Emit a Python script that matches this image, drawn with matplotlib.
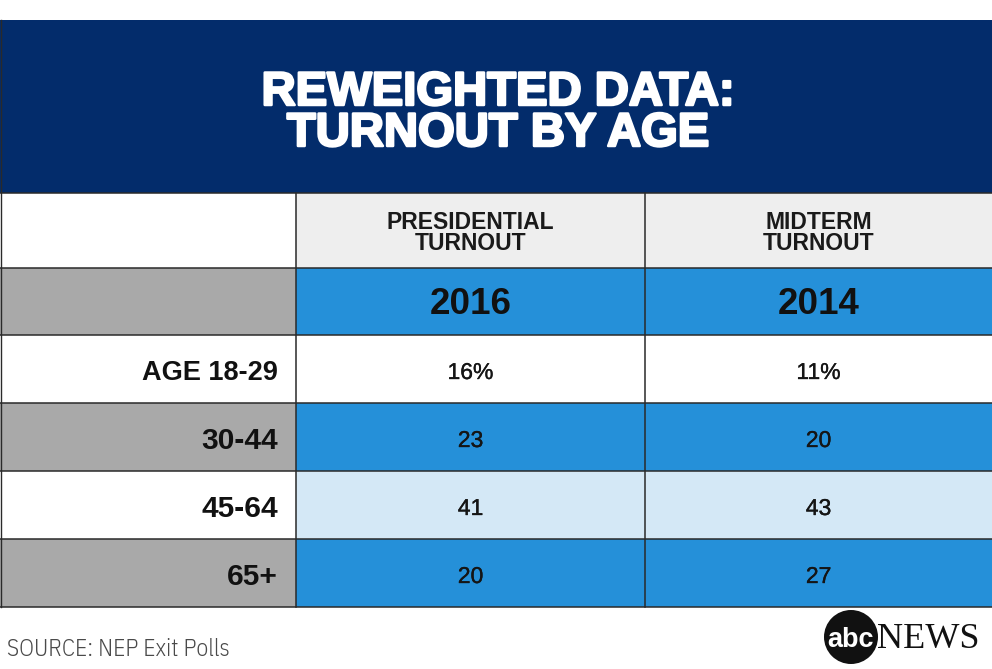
import matplotlib
matplotlib.use("Agg")
import matplotlib.pyplot as plt
from matplotlib.patches import Rectangle, Circle
import matplotlib.patheffects as pe

title_lines = ["REWEIGHTED DATA:", "TURNOUT BY AGE"]
col_headers = [["PRESIDENTIAL", "TURNOUT"], ["MIDTERM", "TURNOUT"]]
years = ["2016", "2014"]
age_groups = ["AGE 18-29", "30-44", "45-64", "65+"]
presidential_2016 = ["16%", "23", "41", "20"]
midterm_2014 = ["11%", "20", "43", "27"]
source_text = "SOURCE: NEP Exit Polls"

NAVY = "#032C6B"
BLUE = "#2590D9"
GRAY = "#A9A9A9"
LIGHT_BLUE = "#D4E8F6"
HEAD_GRAY = "#EEEEEE"
LINE = "#2A2A2A"

W, H = 992, 669
fig = plt.figure(figsize=(W / 100, H / 100), dpi=100)
ax = fig.add_axes([0, 0, 1, 1])
ax.set_xlim(0, W)
ax.set_ylim(H, 0)
ax.axis("off")

sans = ["Liberation Sans", "DejaVu Sans"]
cond = ["IBM Plex Sans Condensed", "DejaVu Sans"]

# title band
ax.add_patch(Rectangle((0, 20), W, 173, color=NAVY, lw=0))
heavy = [pe.withStroke(linewidth=1.8, foreground="white")]
ax.text(W / 2 + 2, 88, title_lines[0], ha="center", va="center_baseline", color="white",
        fontsize=34, fontweight="bold", family=sans, path_effects=heavy)
ax.text(W / 2 + 2, 129, title_lines[1], ha="center", va="center_baseline", color="white",
        fontsize=34, fontweight="bold", family=sans, path_effects=heavy)

col_x = [0, 296, 645, W]
head_y = [193, 268]
year_y = [268, 335]
row_h = 68
row_top = 335

# header row
ax.add_patch(Rectangle((0, head_y[0]), col_x[1], head_y[1] - head_y[0], color="white", lw=0))
for j in range(2):
    ax.add_patch(Rectangle((col_x[j + 1], head_y[0]), col_x[j + 2] - col_x[j + 1],
                           head_y[1] - head_y[0], color=HEAD_GRAY, lw=0))
    cx = (col_x[j + 1] + col_x[j + 2]) / 2
    for k, line in enumerate(col_headers[j]):
        ax.text(cx, 220 + 21.5 * k, line, ha="center", va="center_baseline",
                fontsize=16.5, fontweight="bold", family=sans, color="#1a1a1a")

# year row
ax.add_patch(Rectangle((0, year_y[0]), col_x[1], year_y[1] - year_y[0], color=GRAY, lw=0))
for j in range(2):
    ax.add_patch(Rectangle((col_x[j + 1], year_y[0]), col_x[j + 2] - col_x[j + 1],
                           year_y[1] - year_y[0], color=BLUE, lw=0))
    cx = (col_x[j + 1] + col_x[j + 2]) / 2
    ax.text(cx, 301, years[j], ha="center", va="center_baseline",
            fontsize=26.5, fontweight="bold", family=sans, color="#111111")

# data rows
for i, age in enumerate(age_groups):
    y0 = row_top + i * row_h
    left_c = "white" if i % 2 == 0 else GRAY
    val_c = ["white", BLUE, LIGHT_BLUE, BLUE][i]
    ax.add_patch(Rectangle((0, y0), col_x[1], row_h, color=left_c, lw=0))
    for j, vals in enumerate([presidential_2016, midterm_2014]):
        ax.add_patch(Rectangle((col_x[j + 1], y0), col_x[j + 2] - col_x[j + 1], row_h,
                               color=val_c, lw=0))
        cx = (col_x[j + 1] + col_x[j + 2]) / 2
        ax.text(cx, y0 + row_h / 2 + 1, vals[i], ha="center", va="center_baseline",
                fontsize=16.5, family=sans, color="#151515",
                path_effects=[pe.withStroke(linewidth=0.25, foreground="#151515")])
    ax.text(col_x[1] - 18, y0 + row_h / 2 + 1, age, ha="right", va="center_baseline",
            fontsize=19.5 if i == 0 else 21.5, fontweight="bold", family=sans, color="#111111")

# grid lines
table_bottom = row_top + len(age_groups) * row_h
hlines = [head_y[0], head_y[1], year_y[1]] + [row_top + k * row_h for k in range(1, len(age_groups) + 1)]
for yy in hlines:
    ax.plot([0, W], [yy, yy], color=LINE, lw=1.1, solid_capstyle="butt")
for xx in col_x[1:3]:
    ax.plot([xx, xx], [head_y[0], table_bottom], color=LINE, lw=1.1)
ax.plot([0.5, 0.5], [20, table_bottom], color=LINE, lw=1.0)

# footer
ax.text(7, 647, source_text, ha="left", va="center_baseline", fontsize=17, family=cond,
        fontweight=300, color="#4a4a4a")
ax.add_patch(Circle((851, 637), 27, color="#111111", lw=0))
ax.text(851, 637, "abc", ha="center", va="center_baseline", fontsize=19.5, fontweight="bold",
        family=sans, color="white")
ax.text(877, 636, "NEWS", ha="left", va="center_baseline", fontsize=26,
        family=["Liberation Serif", "DejaVu Serif"], color="#111111")

fig.savefig("out.png", dpi=100)
